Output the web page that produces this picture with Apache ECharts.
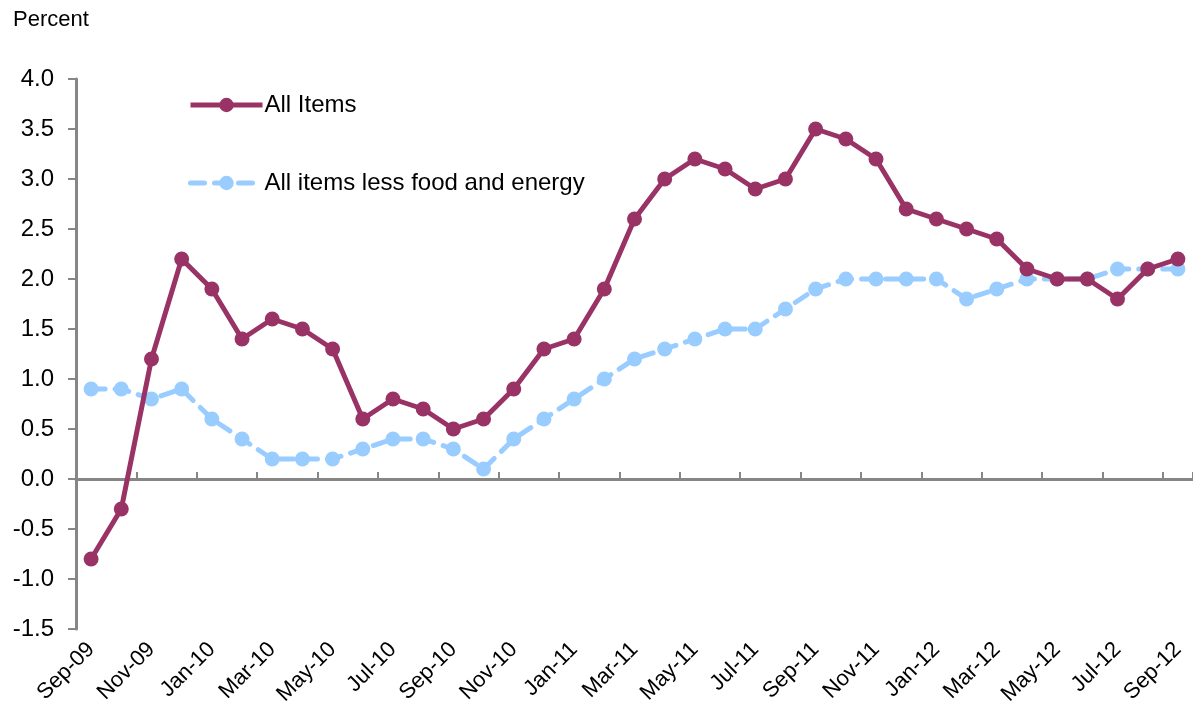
<!DOCTYPE html>
<html>
<head>
<meta charset="utf-8">
<script src="https://cdn.jsdelivr.net/npm/echarts@6/dist/echarts.min.js"></script>
<style>html,body{margin:0;padding:0;background:#fff;}#c{width:1193px;height:719px;}</style>
</head>
<body>
<div id="c"></div>
<script>
const months = ['Sep-09','Oct-09','Nov-09','Dec-09','Jan-10','Feb-10','Mar-10','Apr-10','May-10','Jun-10','Jul-10','Aug-10','Sep-10','Oct-10','Nov-10','Dec-10','Jan-11','Feb-11','Mar-11','Apr-11','May-11','Jun-11','Jul-11','Aug-11','Sep-11','Oct-11','Nov-11','Dec-11','Jan-12','Feb-12','Mar-12','Apr-12','May-12','Jun-12','Jul-12','Aug-12','Sep-12'];
const allItems = [-0.8,-0.3,1.2,2.2,1.9,1.4,1.6,1.5,1.3,0.6,0.8,0.7,0.5,0.6,0.9,1.3,1.4,1.9,2.6,3.0,3.2,3.1,2.9,3.0,3.5,3.4,3.2,2.7,2.6,2.5,2.4,2.1,2.0,2.0,1.8,2.1,2.2];
const coreItems = [0.9,0.9,0.8,0.9,0.6,0.4,0.2,0.2,0.2,0.3,0.4,0.4,0.3,0.1,0.4,0.6,0.8,1.0,1.2,1.3,1.4,1.5,1.5,1.7,1.9,2.0,2.0,2.0,2.0,1.8,1.9,2.0,2.0,2.0,2.1,2.1,2.1];
const yTicks = {min: -1.5, max: 4.0, interval: 0.5};

const chart = echarts.init(document.getElementById('c'));
const FONT = '"Liberation Sans", Arial, sans-serif';
chart.setOption({
  animation: false,
  backgroundColor: '#fff',
  textStyle: {fontFamily: FONT},
  title: {text: 'Percent', left: 8, top: 4, textStyle: {fontFamily: FONT, fontSize: 22, fontWeight: 'normal', color: '#000'}},
  grid: {left: 76, top: 79, width: 1124, height: 550, containLabel: false},
  legend: {
    orient: 'vertical', left: 183, top: 88, itemGap: 54, itemWidth: 72, itemHeight: 18,
    textStyle: {fontFamily: FONT, fontSize: 24, color: '#000', padding: [0,0,0,-3]},
    lineStyle: {width: 5},
    data: ['All Items', 'All items less food and energy']
  },
  xAxis: [
    {
      type: 'category', data: months, boundaryGap: true, position: 'bottom',
      axisLine: {onZero: true, lineStyle: {color: '#868686', width: 3}},
      axisTick: {show: true, inside: true, length: 7, interval: 1, lineStyle: {color: '#868686', width: 2}},
      axisLabel: {show: false}, splitLine: {show: false}
    },
    {
      type: 'category', data: months, boundaryGap: true, position: 'bottom',
      axisLine: {show: false, onZero: false}, axisTick: {show: false},
      axisLabel: {show: true, interval: 1, rotate: 45, margin: 17, fontFamily: FONT, fontSize: 22, color: '#000'},
      splitLine: {show: false}
    }
  ],
  yAxis: {
    type: 'value', min: yTicks.min, max: yTicks.max, interval: yTicks.interval,
    axisLine: {show: true, lineStyle: {color: '#868686', width: 3}},
    axisTick: {show: true, inside: false, length: 8, lineStyle: {color: '#868686', width: 2}},
    axisLabel: {margin: 22, fontFamily: FONT, fontSize: 24, color: '#000', formatter: v => v.toFixed(1)},
    splitLine: {show: false}
  },
  series: [
    {
      name: 'All Items', type: 'line', data: allItems, xAxisIndex: 0,
      symbol: 'circle', symbolSize: 15, showAllSymbol: true,
      itemStyle: {color: '#993366'},
      lineStyle: {color: '#993366', width: 5},
      z: 3
    },
    {
      name: 'All items less food and energy', type: 'line', data: coreItems, xAxisIndex: 0,
      symbol: 'circle', symbolSize: 15, showAllSymbol: true,
      itemStyle: {color: '#99CCFF'},
      lineStyle: {color: '#99CCFF', width: 5, type: [14, 10], cap: 'round'},
      z: 2
    }
  ]
});
</script>
</body>
</html>
